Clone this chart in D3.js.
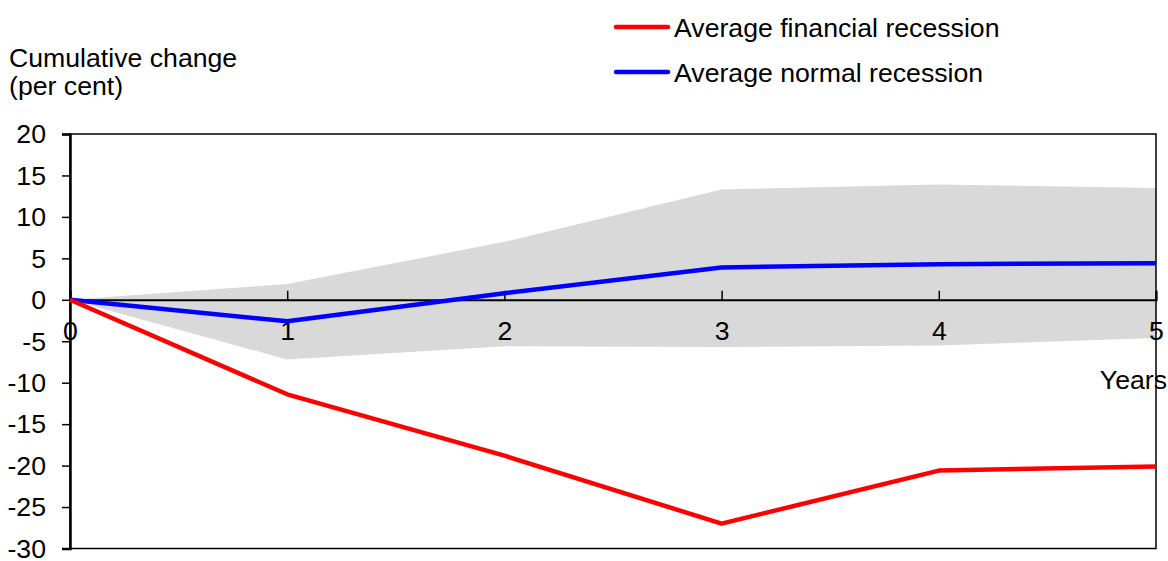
<!DOCTYPE html>
<html><head><meta charset="utf-8">
<script src="https://cdn.jsdelivr.net/npm/d3@7"></script>
<style>body{margin:0;background:#fff}svg{display:block;font-family:"Liberation Sans",Arial,sans-serif}</style>
</head><body><svg id="c" width="1168" height="561"></svg>
<script>
const years = [0,1,2,3,4,5];
const financial = [0,-11.4,-18.8,-27.0,-20.6,-20.1];
const normal = [0,-2.6,0.8,3.9,4.3,4.4];
const bandUpper = [0,1.9,7.0,13.3,13.9,13.5];
const bandLower = [0,-7.2,-5.6,-5.7,-5.5,-4.6];
const yTicks = [20,15,10,5,0,-5,-10,-15,-20,-25,-30];
const xTicks = [0,1,2,3,4,5];

const FS = 26.67;
const svg = d3.select("#c");
const L=70, R=1156, T=134, B=548.5;
const x = d3.scaleLinear().domain([0,5]).range([L,R]);
const y = d3.scaleLinear().domain([-30,20]).range([B,T]);

// band
svg.append("path").datum(years)
  .attr("d", d3.area().x(d=>x(d)).y0((d,i)=>y(bandLower[i])).y1((d,i)=>y(bandUpper[i])))
  .attr("fill","#d9d9d9");

// frame
svg.append("rect").attr("x",L).attr("y",T).attr("width",R-L).attr("height",B-T)
  .attr("fill","none").attr("stroke","#000").attr("stroke-width",1.5);

// y axis
const ya = svg.append("g").attr("transform",`translate(${L},0)`)
  .call(d3.axisLeft(y).tickValues(yTicks).tickSize(8).tickPadding(24).tickFormat(d=>String(d)));
ya.select(".domain").attr("stroke-width",2.5);
ya.selectAll(".tick line").attr("stroke-width",1.5);
ya.selectAll("text").attr("font-size",FS).attr("fill","#000")
  .attr("font-family","Liberation Sans, Arial, sans-serif").attr("text-anchor","end")
  .attr("x",-24).attr("dy","0.33em");

// x axis at zero
const xa = svg.append("g").attr("transform",`translate(0,${y(0)})`)
  .call(d3.axisTop(x).tickValues(xTicks).tickSize(9).tickFormat(d=>String(d)));
xa.select(".domain").attr("stroke-width",2);
xa.selectAll(".tick line").attr("stroke-width",1.5);
xa.selectAll("text").attr("font-size",FS).attr("fill","#000").attr("y",40).attr("dy",0)
  .attr("font-family","Liberation Sans, Arial, sans-serif");

const line = d3.line().x((d,i)=>x(years[i])).y(d=>y(d));
svg.append("path").datum(normal).attr("d",line).attr("fill","none")
  .attr("stroke","#0000ff").attr("stroke-width",4.5).attr("stroke-linejoin","round");
svg.append("path").datum(financial).attr("d",line).attr("fill","none")
  .attr("stroke","#ff0000").attr("stroke-width",4.5).attr("stroke-linejoin","round");

// labels
svg.append("text").attr("x",1167).attr("y",389).attr("text-anchor","end")
  .attr("font-size",FS).text("Years");
svg.append("text").attr("x",9).attr("y",67).attr("font-size",FS).text("Cumulative change");
svg.append("text").attr("x",9).attr("y",95).attr("font-size",FS).text("(per cent)");

// legend
const leg = [["Average financial recession","#ff0000"],["Average normal recession","#0000ff"]];
leg.forEach((d,i)=>{
  const yy = 27 + i*45;
  svg.append("line").attr("x1",616).attr("x2",668).attr("y1",yy).attr("y2",yy)
    .attr("stroke",d[1]).attr("stroke-width",4.5).attr("stroke-linecap","round");
  svg.append("text").attr("x",674).attr("y",yy+9.5).attr("font-size",FS).text(d[0]);
});
</script></body></html>
